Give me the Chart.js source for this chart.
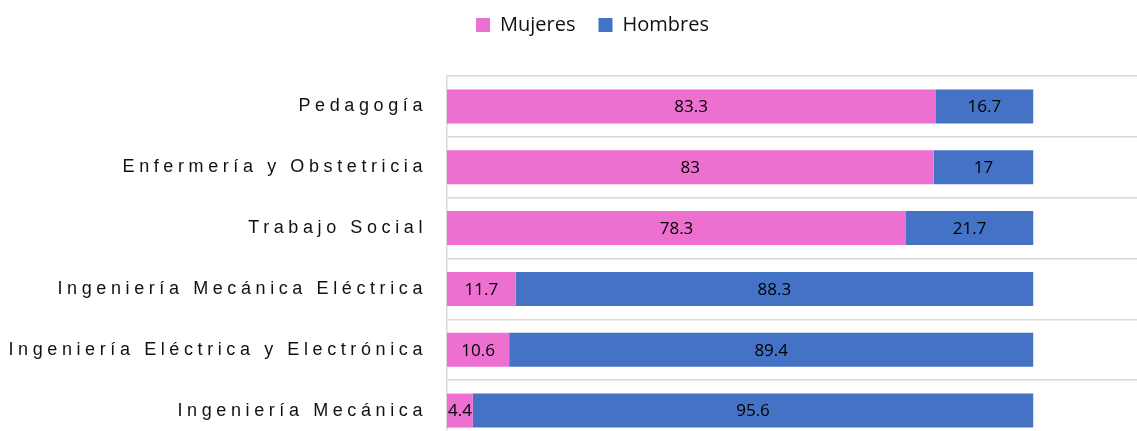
<!DOCTYPE html>
<html>
<head>
<meta charset="utf-8">
<script src="https://cdn.jsdelivr.net/npm/chart.js@4.4.1/dist/chart.umd.min.js"></script>
<style>
  html, body { margin: 0; padding: 0; background: #fff; overflow: hidden; }
</style>
</head>
<body>
<canvas id="grafico" width="1137" height="441"></canvas>
<script>
// Datos del gráfico
const carreras = [
    'Pedagogía',
    'Enfermería y Obstetricia',
    'Trabajo Social',
    'Ingeniería Mecánica Eléctrica',
    'Ingeniería Eléctrica y Electrónica',
    'Ingeniería Mecánica'
];
const mujeres = [83.3, 83, 78.3, 11.7, 10.6, 4.4];
const hombres = [16.7, 17, 21.7, 88.3, 89.4, 95.6];

// Espaciado de letras para las etiquetas del eje Y
const espaciadoEtiquetas = {
    id: 'espaciadoEtiquetas',
    beforeDraw(chart) {
        const escala = chart.scales.y;
        if (escala && !escala._conEspaciado) {
            const original = escala.drawLabels;
            escala.drawLabels = function(area) {
                const ctx = this.ctx;
                ctx.save();
                ctx.letterSpacing = '4.6px';
                original.call(this, area);
                ctx.restore();
            };
            escala._conEspaciado = true;
        }
    }
};

// Margen bajo la leyenda y desplazamiento horizontal
const margenLeyenda = {
    id: 'margenLeyenda',
    beforeInit(chart) {
        const fitOriginal = chart.legend.fit;
        chart.legend.fit = function() {
            fitOriginal.bind(chart.legend)();
            this.height = 84;
        };
    },
    afterLayout(chart) {
        chart.legend.left += 24;
        chart.legend.right += 24;
    }
};

// Etiquetas de valores dentro de las barras
const etiquetasValores = {
    id: 'etiquetasValores',
    afterDatasetsDraw(chart) {
        const ctx = chart.ctx;
        ctx.save();
        ctx.font = "17px 'Open Sans'";
        ctx.fillStyle = '#000';
        ctx.textAlign = 'center';
        ctx.textBaseline = 'middle';
        chart.data.datasets.forEach((ds, i) => {
            const meta = chart.getDatasetMeta(i);
            meta.data.forEach((bar, j) => {
                const x = (bar.x + bar.base) / 2;
                ctx.fillText(String(ds.data[j]), x, bar.y + 1);
            });
        });
        ctx.restore();
    }
};

const ctx = document.getElementById('grafico');

new Chart(ctx, {
    type: 'bar',
    data: {
        labels: carreras,
        datasets: [
            {
                label: 'Mujeres',
                data: mujeres,
                backgroundColor: '#ED6FD0',
                borderWidth: 0
            },
            {
                label: 'Hombres',
                data: hombres,
                backgroundColor: '#4472C4',
                borderWidth: 0
            }
        ]
    },
    options: {
        indexAxis: 'y',
        responsive: false,
        animation: false,
        datasets: {
            bar: {
                barPercentage: 0.56,
                categoryPercentage: 1
            }
        },
        layout: {
            padding: { top: -8, right: 0, bottom: 0, left: 0 }
        },
        scales: {
            x: {
                stacked: true,
                display: false,
                min: 0,
                max: 117.7
            },
            y: {
                stacked: true,
                afterFit(scale) {
                    scale.width = 447;
                    scale.paddingTop = 0;
                    scale.paddingBottom = 0;
                },
                grid: {
                    offset: true,
                    color: '#d9d9d9',
                    lineWidth: 1.5,
                    drawTicks: false
                },
                border: {
                    display: true,
                    color: '#d9d9d9',
                    width: 1.5
                },
                ticks: {
                    padding: 20,
                    color: '#111',
                    font: {
                        family: "'Liberation Sans', Arial, sans-serif",
                        size: 18
                    }
                }
            }
        },
        plugins: {
            legend: {
                position: 'top',
                labels: {
                    boxWidth: 14,
                    boxHeight: 14,
                    padding: 23,
                    color: '#111',
                    font: {
                        family: "'Open Sans', sans-serif",
                        size: 20
                    }
                }
            },
            tooltip: { enabled: false }
        }
    },
    plugins: [espaciadoEtiquetas, margenLeyenda, etiquetasValores]
});
</script>
</body>
</html>
